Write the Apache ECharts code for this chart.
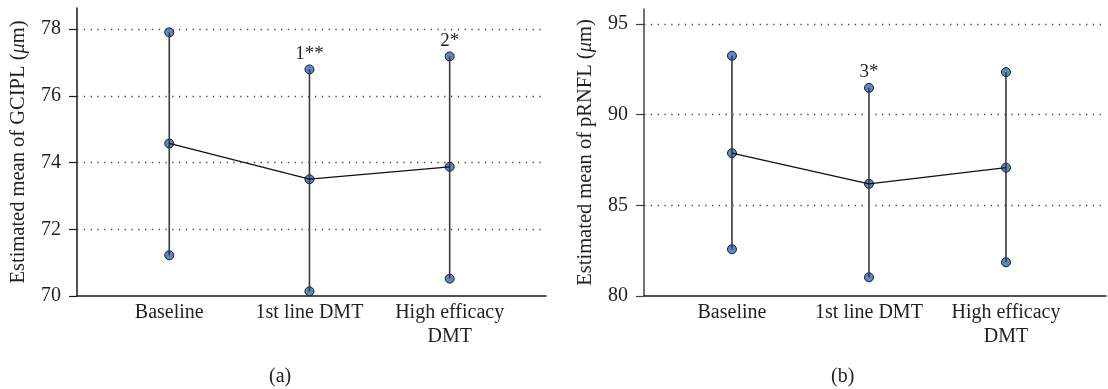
<!DOCTYPE html>
<html>
<head>
<meta charset="utf-8">
<script src="https://cdn.jsdelivr.net/npm/echarts@6/dist/echarts.min.js"></script>
<style>
  html, body { margin: 0; padding: 0; background: #fff; }
  #chart { width: 1108px; height: 389px; }
</style>
</head>
<body>
<div id="chart"></div>
<script>
// categories on the x axis (placed at x = 1, 2, 3)
const categories = ['Baseline', '1st line DMT', 'High efficacy\nDMT'];
const positions = [1, 2, 3];

// (a) GCIPL
const gcMean = [74.57, 73.50, 73.87];
const gcLow = [71.22, 70.14, 70.52];
const gcHigh = [77.90, 76.79, 77.18];
const gcNotes = ['', '1**', '2*'];
const gcTicks = [70, 72, 74, 76, 78];

// (b) pRNFL
const rnMean = [87.88, 86.19, 87.08];
const rnLow = [82.58, 81.03, 81.86];
const rnHigh = [93.25, 91.48, 92.35];
const rnNotes = ['', '3*', ''];
const rnTicks = [80, 85, 90, 95];

const FONT = 'Liberation Serif';
const TEXT = '#231f20';
const DOT = '#5b88c6';

const chart = echarts.init(document.getElementById('chart'));

function xAxisFor(gridIndex, min, max) {
    return {
        type: 'value',
        gridIndex: gridIndex,
        min: min,
        max: max,
        axisLine: { lineStyle: { color: '#1a1a1a', width: 1.5 } },
        axisTick: { show: false },
        splitLine: { show: false },
        axisLabel: {
            customValues: positions,
            formatter: v => categories[Math.round(v) - 1] || '',
            color: TEXT,
            fontFamily: FONT,
            fontSize: 20,
            lineHeight: 24,
            margin: 5
        }
    };
}

function yAxisFor(gridIndex, min, max, ticks, name, lineColor) {
    return {
        type: 'value',
        gridIndex: gridIndex,
        min: min,
        max: max,
        name: name,
        nameLocation: 'middle',
        nameGap: 48,
        nameTextStyle: {
            fontFamily: FONT,
            fontSize: 20.5,
            color: TEXT,
            rich: {
                i: { fontFamily: FONT, fontSize: 20.5, fontStyle: 'italic', color: TEXT }
            }
        },
        axisLine: { show: true, lineStyle: { color: lineColor, width: 1.5 } },
        axisTick: { show: true, customValues: ticks, length: 8, lineStyle: { color: lineColor, width: 1.2 } },
        splitLine: { show: false },
        axisLabel: {
            customValues: ticks,
            color: TEXT,
            fontFamily: FONT,
            fontSize: 20,
            margin: 16
        }
    };
}

function panelSeries(idx, mean, low, high, notes, ticks, min) {
    const markers = [];
    positions.forEach((p, i) => {
        markers.push([p, low[i]]);
        markers.push([p, mean[i]]);
    });
    return [
        {
            type: 'scatter',
            xAxisIndex: idx,
            yAxisIndex: idx,
            symbolSize: 9,
            z: 2,
            itemStyle: { color: DOT, borderColor: '#1a1a1a', borderWidth: 1, opacity: 1 },
            data: markers,
            markLine: {
                silent: true,
                symbol: 'none',
                label: { show: false },
                lineStyle: { color: '#444', type: [1.3, 5.5], width: 1.3 },
                data: ticks.filter(v => v > min).map(v => ({ yAxis: v }))
            }
        },
        {
            type: 'scatter',
            xAxisIndex: idx,
            yAxisIndex: idx,
            symbolSize: 9,
            z: 2,
            itemStyle: { color: DOT, borderColor: '#1a1a1a', borderWidth: 1, opacity: 1 },
            label: {
                show: true,
                position: 'top',
                distance: 1,
                formatter: p => notes[p.dataIndex],
                color: TEXT,
                fontFamily: FONT,
                fontSize: 19
            },
            data: positions.map((p, i) => [p, high[i]])
        },
        {
            type: 'custom',
            xAxisIndex: idx,
            yAxisIndex: idx,
            z: 3,
            silent: true,
            renderItem: function (params, api) {
                const x = api.value(0);
                const a = api.coord([x, api.value(1)]);
                const b = api.coord([x, api.value(2)]);
                return {
                    type: 'line',
                    shape: { x1: a[0], y1: a[1], x2: b[0], y2: b[1] },
                    style: { stroke: '#3a3a3a', lineWidth: 1.6 }
                };
            },
            data: positions.map((p, i) => [p, low[i], high[i]])
        },
        {
            type: 'line',
            xAxisIndex: idx,
            yAxisIndex: idx,
            z: 3,
            symbol: 'none',
            lineStyle: { color: '#111', width: 1.3 },
            data: positions.map((p, i) => [p, mean[i]])
        }
    ];
}

const option = {
    backgroundColor: '#fff',
    animation: false,
    title: [
        { text: '(a)', left: 264, top: 362, textStyle: { fontFamily: FONT, fontSize: 20, fontWeight: 'normal', color: TEXT } },
        { text: '(b)', left: 826, top: 362, textStyle: { fontFamily: FONT, fontSize: 20, fontWeight: 'normal', color: TEXT } }
    ],
    grid: [
        { left: 77, right: 562, top: 8, bottom: 93 },
        { left: 644, right: 2, top: 9, bottom: 93 }
    ],
    xAxis: [
        xAxisFor(0, 0.342, 3.687),
        xAxisFor(1, 0.358, 3.73)
    ],
    yAxis: [
        yAxisFor(0, 70, 78.63, gcTicks, 'Estimated mean of GCIPL ({i|μ}m)', '#1a1a1a'),
        yAxisFor(1, 80, 95.83, rnTicks, 'Estimated mean of pRNFL ({i|μ}m)', '#444')
    ],
    series: [
        ...panelSeries(0, gcMean, gcLow, gcHigh, gcNotes, gcTicks, 70),
        ...panelSeries(1, rnMean, rnLow, rnHigh, rnNotes, rnTicks, 80)
    ]
};

chart.setOption(option);
</script>
</body>
</html>
